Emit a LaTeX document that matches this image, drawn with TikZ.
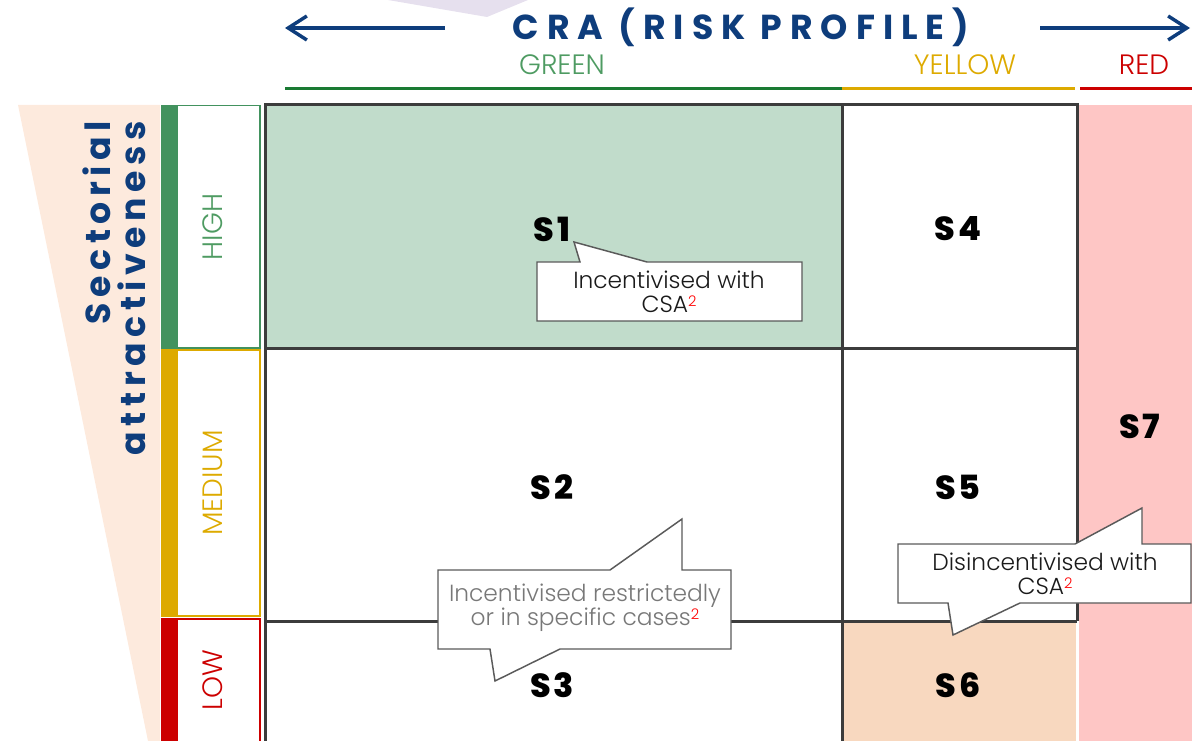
\documentclass[tikz,border=0pt]{standalone}
\usepackage{fontspec}
\setmainfont{Poppins}
\IfFontExistsTF{Poppins Light}{\newfontfamily\poplight{Poppins Light}}{\newfontfamily\poplight{Poppins}}
\newfontfamily\spaced{Poppins}[LetterSpace=23]
\newfontfamily\vspaced{Poppins}[LetterSpace=16]
\IfFontExistsTF{Poppins ExtraBold}{\newfontfamily\sspaced{Poppins ExtraBold}[LetterSpace=8]}{\newfontfamily\sspaced{Poppins Bold}[LetterSpace=8]}
\usetikzlibrary{arrows.meta}
\definecolor{navy}{RGB}{14,61,124}
\definecolor{lav}{RGB}{230,224,238}
\definecolor{gtext}{RGB}{78,155,98}
\definecolor{gline}{RGB}{26,122,51}
\definecolor{gbarc}{RGB}{66,146,94}
\definecolor{yelc}{RGB}{221,170,0}
\definecolor{redc}{RGB}{204,0,0}
\definecolor{peach}{RGB}{253,234,221}
\definecolor{sonefill}{RGB}{193,220,203}
\definecolor{ssixfill}{RGB}{248,216,191}
\definecolor{ssevenfill}{RGB}{254,198,197}
\definecolor{gridc}{RGB}{60,60,60}
\definecolor{callc}{RGB}{90,90,90}
\definecolor{ctext}{RGB}{26,26,26}
\definecolor{ctextgray}{RGB}{120,120,120}
\newcommand\redsup{\raisebox{5pt}{\fontsize{11}{11}\selectfont\color{red}2}}
\begin{document}
\begin{tikzpicture}[x=0.75pt,y=-0.75pt,
  navyarrow/.style={draw=navy,line width=3pt,-{Straight Barb[length=14pt,width=18pt,line width=2.6pt]}},
  catlabel/.style={font=\poplight\fontsize{21}{25}\selectfont,anchor=base,inner sep=0pt},
  rowlabel/.style={font=\poplight\fontsize{21}{25}\selectfont,rotate=90,inner sep=0pt},
  slabel/.style={font=\sspaced\fontsize{25}{29}\selectfont,text=black,inner sep=0pt},
  gridline/.style={draw=gridc,line width=2.25pt},
  callout/.style={fill=white,draw=callc,line width=1.1pt,line join=miter},
  calltext/.style={font=\poplight\fontsize{17.5}{18}\selectfont,align=center,inner sep=0pt}
]
\useasboundingbox (0,0) rectangle (1192,741);

% lavender shape at top
\fill[lav] (388,0) -- (528,0) -- (487,17) -- cycle;

% arrows
\coordinate (laS) at (445,28); \coordinate (laE) at (285,28);
\coordinate (raS) at (1040,28); \coordinate (raE) at (1190,28);
\draw[navyarrow] (laS) -- (laE);
\draw[navyarrow] (raS) -- (raE);

% title
\node[font=\spaced\bfseries\fontsize{26}{30}\selectfont,text=navy,anchor=base,inner sep=0pt] (cra) at (741,40) {CRA (RISK PROFILE)};

% category labels
\node[catlabel,text=gtext] (green) at (562,75) {GREEN};
\node[catlabel,text=yelc] (yellow) at (965,75) {YELLOW};
\node[catlabel,text=redc] (red) at (1144,75) {RED};

% category lines
\coordinate (g1) at (285,89); \coordinate (g2) at (842,89);
\coordinate (y1) at (842,89); \coordinate (y2) at (1075,89);
\coordinate (r1) at (1080,89); \coordinate (r2) at (1192,89);
\draw[gline,line width=2.25pt] (g1) -- (g2);
\draw[yelc,line width=2.25pt] (y1) -- (y2);
\draw[redc,line width=2.25pt] (r1) -- (r2);

% peach wedge
\fill[peach] (18,105) -- (160,105) -- (160,741) -- (148,741) -- cycle;
\node[rotate=90,anchor=south east,align=right,inner sep=0pt,
      font=\vspaced\bfseries\fontsize{26}{26.2}\selectfont,text=navy] (sect) at (146,121) {Sectorial\\attractiveness};

% row bars
\fill[gbarc] (161,105) rectangle (177,349);
\fill[yelc] (161,349) rectangle (177,617);
\fill[redc] (161,618) rectangle (177,741);
\draw[gbarc,line width=1pt] (177,105.5) rectangle (260,348);
\draw[yelc,line width=1pt] (177,350) rectangle (260,616);
\draw[redc,line width=1pt] (177,619) rectangle (260,748);
\node[rowlabel,text=gtext] (high) at (213,227) {HIGH};
\node[rowlabel,text=yelc] (medium) at (213,483) {MEDIUM};
\node[rowlabel,text=redc] (low) at (213,680) {LOW};

% cell fills
\fill[sonefill] (265,105) rectangle (842,349);
\fill[ssevenfill] (1079,105) rectangle (1192,741);
\fill[ssixfill] (842,621) rectangle (1076,741);

% grid
\draw[gridline] (265,742) -- (265,105) -- (1077,105) -- (1077,621);
\draw[gridline] (842,105) -- (842,742);
\draw[gridline] (265,349) -- (1077,349);
\draw[gridline] (265,621) -- (1077,621);

% cell labels
\node[slabel] (s1) at (552,229) {S1};
\node[slabel] (s4) at (958,229) {S4};
\node[slabel] (s2) at (552,487) {S2};
\node[slabel] (s5) at (958,487) {S5};
\node[slabel] (s3) at (552,685) {S3};
\node[slabel] (s6) at (958,685) {S6};
\node[slabel] (s7) at (1140,426) {S7};

% callout 1
\path[callout] (537,262) -- (580,262) -- (574,242) -- (647,262) -- (802,262) -- (802,321) -- (537,321) -- cycle;
\node[calltext,text=ctext] (c1) at (669,292) {Incentivised with\\CSA\redsup};

% callout 2
\path[callout] (438,570) -- (610,570) -- (682,519) -- (682,570) -- (731,570) -- (731,649) -- (560,649) -- (495,681) -- (490,649) -- (438,649) -- cycle;
\node[calltext,text=ctextgray] (c2) at (585,608) {Incentivised restrictedly\\or in specific cases\redsup};

% callout 3
\path[callout] (898,544) -- (1075,544) -- (1142,508) -- (1142,544) -- (1191,544) -- (1191,603) -- (1020,603) -- (953,635) -- (948,603) -- (898,603) -- cycle;
\node[calltext,text=ctext] (c3) at (1045,574) {Disincentivised with\\CSA\redsup};
\end{tikzpicture}
\end{document}
